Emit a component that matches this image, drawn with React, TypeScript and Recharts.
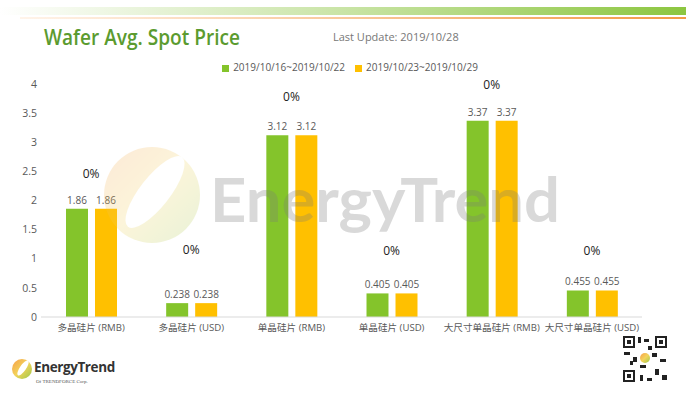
import { Bar, CartesianGrid, LabelList, Legend, Line, XAxis, YAxis, ComposedChart } from "recharts";

const categories = ["多晶硅片 (RMB)", "多晶硅片 (USD)", "单晶硅片 (RMB)", "单晶硅片 (USD)", "大尺寸单晶硅片 (RMB)", "大尺寸单晶硅片 (USD)"];
const week1 = [1.86, 0.238, 3.12, 0.405, 3.37, 0.455];
const week2 = [1.86, 0.238, 3.12, 0.405, 3.37, 0.455];
const changePct = ["0%", "0%", "0%", "0%", "0%", "0%"];
// where the change labels sit, in axis units
const changePos = [2.45, 1.15, 3.77, 1.14, 3.98, 1.14];
const yTicks = [0, 0.5, 1, 1.5, 2, 2.5, 3, 3.5, 4];

const data = categories.map((name, i) => ({
  name,
  w1: week1[i],
  w2: week2[i],
  pct: changePct[i],
  pos: changePos[i],
}));

const GREEN = "#84C42B";
const YELLOW = "#FFC000";
const INK = "#595959";
const FONT = "'Open Sans', 'Noto Sans CJK SC', sans-serif";

function PctLabel(props: any) {
  const { x, y, value } = props;
  return (
    <text x={x} y={y} dy={4} textAnchor="middle" fontSize={12} fill="#222" fontFamily={FONT}>
      {value}
    </text>
  );
}

function Decor() {
  return (
    <svg width={686} height={397} style={{ position: "absolute", left: 0, top: 0, pointerEvents: "none" }}>
      <defs>
        <linearGradient id="topbar" x1="0" x2="1" y1="0" y2="0">
          <stop offset="0" stopColor="#ffffff" />
          <stop offset="0.5" stopColor="#c9e4a6" />
          <stop offset="1" stopColor="#8cc640" />
        </linearGradient>
        <linearGradient id="orangeline" x1="0" x2="1" y1="0" y2="0">
          <stop offset="0" stopColor="#fff4ea" />
          <stop offset="1" stopColor="#f39a45" />
        </linearGradient>
        <linearGradient id="logo" x1="0" x2="1" y1="0" y2="1">
          <stop offset="0" stopColor="#f7a04a" />
          <stop offset="0.5" stopColor="#f2d35a" />
          <stop offset="1" stopColor="#9cc84a" />
        </linearGradient>
      </defs>
      <rect x={0} y={7} width={686} height={8} fill="url(#topbar)" />
      <rect x={20} y={17} width={666} height={2} fill="url(#orangeline)" />
      <text x={44} y={45} fontSize={21} fontWeight={600} fill="#5b9b2f" fontFamily={FONT} textLength={196} lengthAdjust="spacingAndGlyphs">
        Wafer Avg. Spot Price
      </text>
      <text x={333} y={41} fontSize={11} fill="#777" fontFamily={FONT}>
        Last Update: 2019/10/28
      </text>

      {/* watermark */}
      <g opacity={0.22}>
        <circle cx={152} cy={195} r={48} fill="url(#logo)" />
        <ellipse cx={155} cy={192} rx={15} ry={44} transform="rotate(38 155 192)" fill="#fff" />
      </g>
      <text x={210} y={222} fontSize={62} fontWeight={700} fill="#7a7a7a" opacity={0.28} fontFamily="Lato, sans-serif" textLength={350} lengthAdjust="spacingAndGlyphs">
        EnergyTrend
      </text>

      {/* footer logo */}
      <circle cx={22} cy={369} r={10} fill="url(#logo)" />
      <ellipse cx={23} cy={368} rx={3} ry={9} transform="rotate(35 23 368)" fill="#fff" />
      <text x={34} y={372} fontSize={13.5} fontWeight={700} fill="#333" fontFamily={FONT} letterSpacing={-0.4}>
        EnergyTrend
      </text>
      <text x={36} y={383} fontSize={5} fill="#555" fontFamily="'Liberation Serif', serif">
        Of TRENDFORCE Corp.
      </text>

      {/* QR code block */}
      <g fill="#222">
        <rect x={623} y={336} width={12} height={12} />
        <rect x={655} y={336} width={12} height={12} />
        <rect x={623} y={370} width={12} height={12} />
      </g>
      <g fill="#fff">
        <rect x={625} y={338} width={8} height={8} />
        <rect x={657} y={338} width={8} height={8} />
        <rect x={625} y={372} width={8} height={8} />
      </g>
      <g fill="#222">
        <rect x={627} y={340} width={4} height={4} />
        <rect x={659} y={340} width={4} height={4} />
        <rect x={627} y={374} width={4} height={4} />
        <rect x={638} y={337} width={3} height={6} />
        <rect x={644} y={339} width={5} height={3} />
        <rect x={624} y={352} width={6} height={3} />
        <rect x={633} y={357} width={4} height={5} />
        <rect x={640} y={365} width={6} height={3} />
        <rect x={652} y={353} width={5} height={4} />
        <rect x={660} y={359} width={6} height={3} />
        <rect x={655} y={369} width={4} height={6} />
        <rect x={662} y={375} width={5} height={5} />
        <rect x={640} y={375} width={3} height={6} />
        <rect x={647} y={378} width={5} height={3} />
        <rect x={630} y={361} width={3} height={4} />
        <rect x={648} y={346} width={4} height={4} />
      </g>
      <circle cx={645} cy={358} r={5} fill="url(#logo)" />
    </svg>
  );
}

export default function App() {
  return (
    <div style={{ position: "absolute", left: 0, top: 0, width: 686, height: 397, background: "#fff", fontFamily: FONT }}>
      <ComposedChart width={686} height={397} data={data} margin={{ top: 84, right: 44, left: 0, bottom: 50 }} barGap={7}>
        <CartesianGrid stroke="none" />
        <XAxis
          dataKey="name"
          interval={0}
          tick={{ fontSize: 9.6, fill: INK, fontFamily: FONT }}
          tickLine={false}
          axisLine={{ stroke: "#d9d9d9" }}
          tickSize={4}
          tickMargin={3}
        />
        <YAxis
          width={41}
          domain={[0, 4]}
          ticks={yTicks}
          tick={{ fontSize: 10.5, fill: INK, fontFamily: FONT }}
          tickLine={false}
          axisLine={false}
          tickSize={4}
          tickMargin={0}
        />
        <Legend
          verticalAlign="middle"
          align="center"
          iconType="square"
          iconSize={7}
          wrapperStyle={{ top: 60, left: 195, width: 320, height: 16, fontSize: 10, fontFamily: FONT }}
          formatter={(v: string) => <span style={{ color: INK }}>{v}</span>}
        />
        <Bar dataKey="w1" name="2019/10/16~2019/10/22" fill={GREEN} barSize={22} isAnimationActive={false}>
          <LabelList dataKey="w1" position="top" fontSize={10} fill={INK} fontFamily={FONT} />
        </Bar>
        <Bar dataKey="w2" name="2019/10/23~2019/10/29" fill={YELLOW} barSize={22} isAnimationActive={false}>
          <LabelList dataKey="w2" position="top" fontSize={10} fill={INK} fontFamily={FONT} />
        </Bar>
        <Line dataKey="pos" stroke="none" dot={false} activeDot={false} legendType="none" isAnimationActive={false}>
          <LabelList dataKey="pct" content={<PctLabel />} />
        </Line>
      </ComposedChart>
      <Decor />
    </div>
  );
}
